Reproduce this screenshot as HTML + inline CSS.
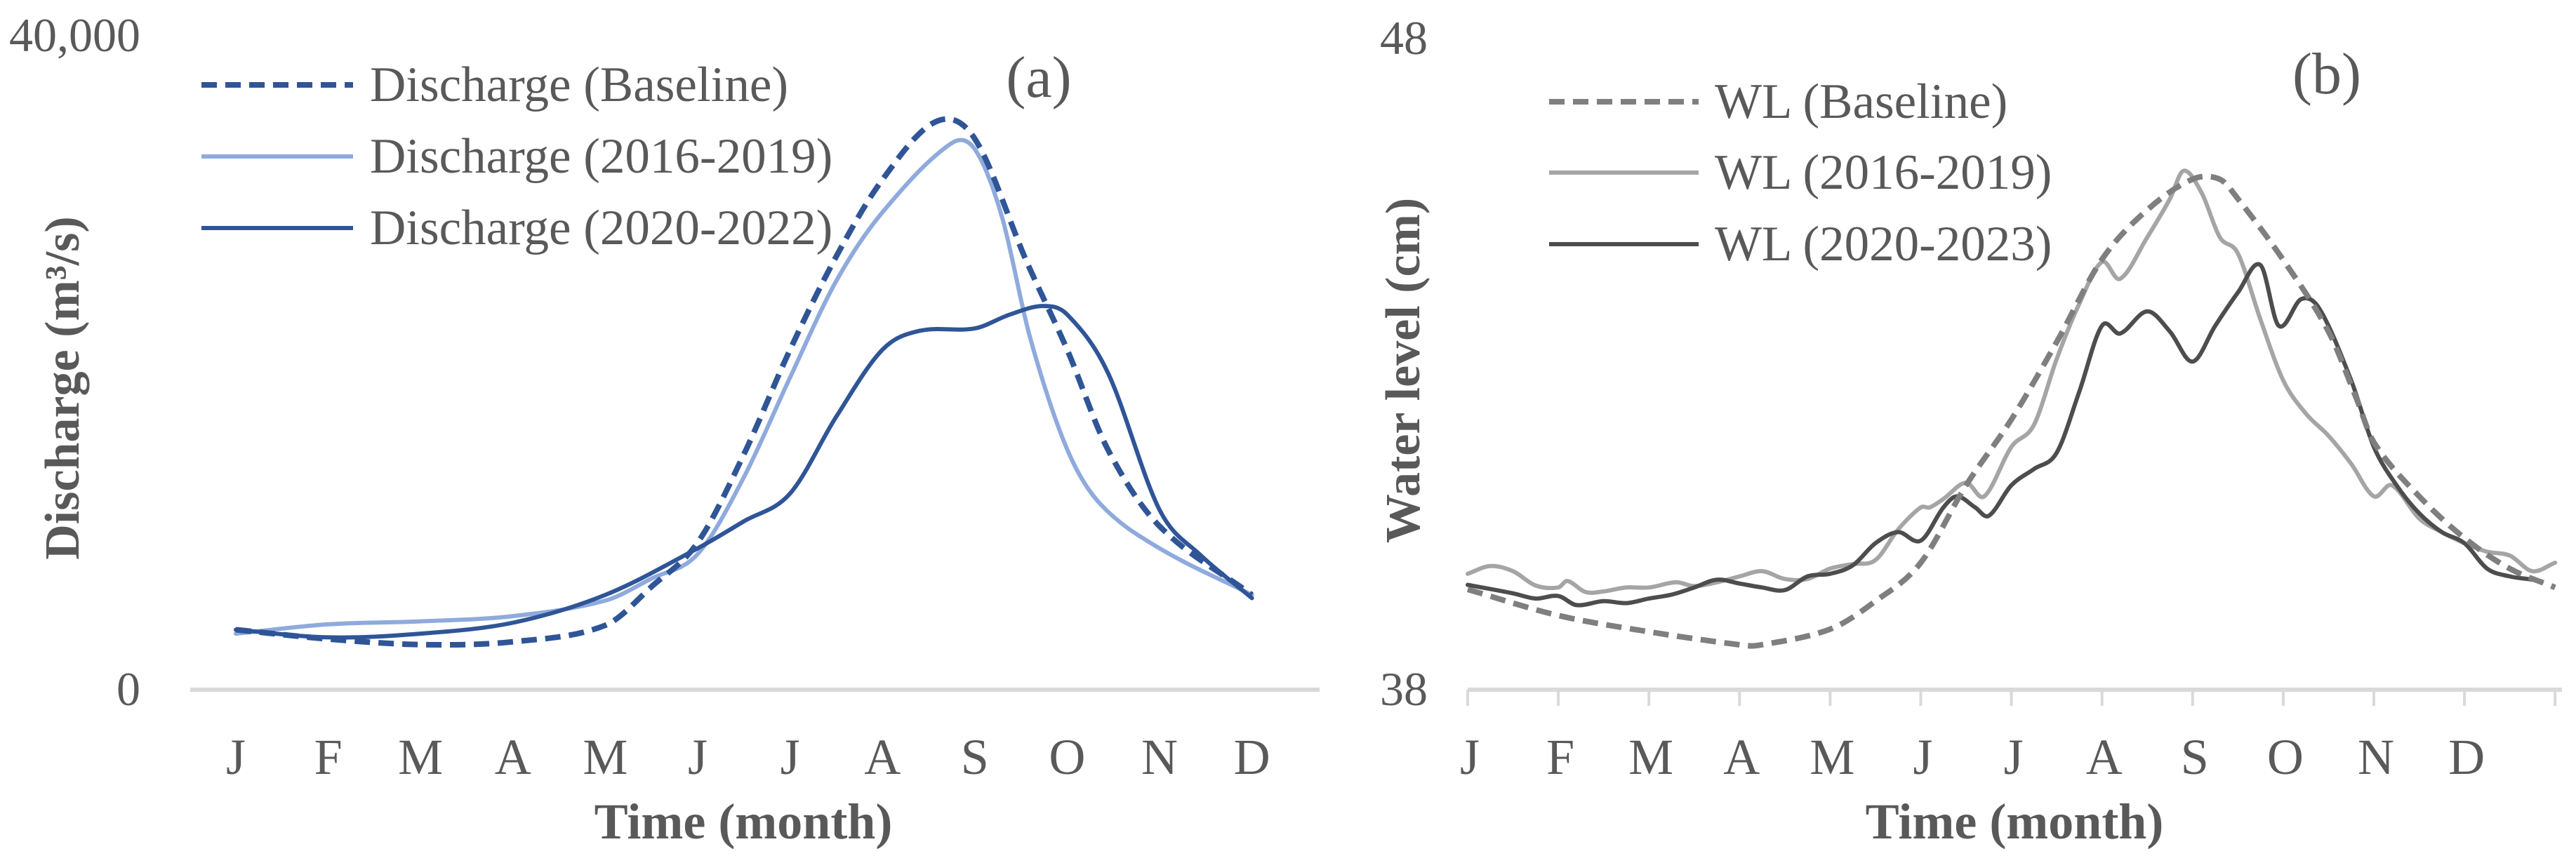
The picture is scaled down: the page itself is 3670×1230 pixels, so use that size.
<!DOCTYPE html>
<html><head><meta charset="utf-8"><style>
html,body{margin:0;padding:0;background:#fff;}
svg{display:block;font-family:"Liberation Serif",serif;}
</style></head><body>
<svg id="fig" width="3670" height="1230" viewBox="0 0 3670 1230" xmlns="http://www.w3.org/2000/svg">
<g id="chartA"></g>
<g id="chartB"></g>
</svg>
<script>
// ---- Chart (a) data ----
const monthLabels = ["J","F","M","A","M","J","J","A","S","O","N","D"];
const aBaseT = [0,1,2,3,4,4.5,5,5.5,6,6.5,7,7.58,8,8.56,9,9.44,10,11];
const aBaseV = [3670,3100,2760,2930,3940,6300,9000,14400,20800,26500,31200,34750,33700,26200,20800,14700,10000,5800];
const aLightT = [0,1,2,3,4,4.5,5,5.5,6,6.5,7,7.74,8,8.29,8.6,9,9.36,10,11];
const aLightV = [3430,4000,4180,4500,5450,6800,8300,13000,19100,25000,29200,33400,33060,29000,21500,14700,11350,8650,5800];
const aDarkT = [0,1,2,3,4,5,5.5,6,6.5,7,7.4,8,8.38,8.74,9,9.44,10,10.43,11];
const aDarkV = [3670,3200,3430,4100,5800,8650,10300,12000,16700,20800,21950,22100,22950,23470,22950,19400,11000,8300,5600];
const aTicks = ["0","40,000"];

// ---- Chart (b) data ----
const bBaseT = [0,1,2,3,3.2,4,4.5,5,5.5,6,6.5,7,7.5,8,8.3,8.5,9,9.5,9.8,10,10.5,11,11.5,12];
const bBaseV = [39.54,39.14,38.89,38.69,38.68,38.93,39.36,39.95,41.14,42.15,43.34,44.61,45.37,45.84,45.84,45.54,44.6,43.5,42.5,41.8,40.97,40.33,39.86,39.57];
const bLightT = [0,0.25,0.5,0.75,1,1.1,1.3,1.5,1.75,2,2.3,2.5,2.75,3,3.25,3.5,3.75,4,4.25,4.5,4.75,5,5.1,5.25,5.5,5.7,6,6.25,6.5,6.75,7,7.2,7.5,7.75,7.9,8.1,8.3,8.5,8.75,9,9.25,9.5,9.75,10,10.2,10.5,10.75,11,11.25,11.5,11.75,12];
const bLightV = [39.78,39.9,39.82,39.6,39.57,39.67,39.5,39.51,39.57,39.57,39.65,39.59,39.65,39.74,39.82,39.7,39.7,39.86,39.93,39.99,40.46,40.8,40.8,40.93,41.18,40.97,41.73,42.07,43.08,43.93,44.57,44.31,44.95,45.54,45.97,45.63,44.95,44.7,43.68,42.75,42.24,41.9,41.47,40.97,41.14,40.63,40.42,40.25,40.12,40.06,39.82,39.95];
const bDarkT = [0,0.5,0.75,1,1.2,1.5,1.75,2,2.25,2.5,2.75,3,3.25,3.5,3.75,4,4.25,4.5,4.75,5,5.25,5.4,5.6,5.75,6,6.25,6.5,6.75,7,7.2,7.5,7.75,8,8.25,8.5,8.75,8.95,9.2,9.4,9.75,10,10.25,10.5,10.75,11,11.25,11.5,11.75,11.85];
const bDarkV = [39.61,39.48,39.4,39.44,39.3,39.36,39.33,39.4,39.46,39.57,39.69,39.63,39.57,39.53,39.74,39.78,39.91,40.25,40.42,40.29,40.8,40.97,40.8,40.67,41.14,41.39,41.64,42.58,43.59,43.47,43.81,43.5,43.04,43.59,44.1,44.52,43.59,44.0,43.85,42.75,41.73,41.14,40.71,40.42,40.25,39.86,39.74,39.69,39.65];
const bTicks = ["38","48"];

const NS = "http://www.w3.org/2000/svg";
function mk(parent, tag, attrs, text){
  const e = document.createElementNS(NS, tag);
  for (const k in attrs) e.setAttribute(k, attrs[k]);
  if (text !== undefined) e.textContent = text;
  parent.appendChild(e);
  return e;
}
function smoothPath(pts){
  let d = "M" + pts[0][0].toFixed(1) + "," + pts[0][1].toFixed(1);
  for (let i = 0; i < pts.length - 1; i++){
    const p0 = pts[Math.max(0,i-1)], p1 = pts[i], p2 = pts[i+1], p3 = pts[Math.min(pts.length-1,i+2)];
    const seg = p2[0]-p1[0];
    const d1 = Math.max(p2[0]-p0[0], 1e-6), d2 = Math.max(p3[0]-p1[0], 1e-6);
    const m1 = (p2[1]-p0[1])/d1, m2 = (p3[1]-p1[1])/d2;
    const c1x = p1[0] + seg/3, c1y = p1[1] + m1*seg/3;
    const c2x = p2[0] - seg/3, c2y = p2[1] - m2*seg/3;
    d += " C" + c1x.toFixed(1)+","+c1y.toFixed(1)+" "+c2x.toFixed(1)+","+c2y.toFixed(1)+" "+p2[0].toFixed(1)+","+p2[1].toFixed(1);
  }
  return d;
}
const TXT = "#595959";

// ===== Chart A =====
const A = document.getElementById("chartA");
const axA = t => 336 + t * 131.6;
const ayA = v => 983 - v * (983 - 51) / 40000;
let el;
el = mk(A, "line", {x1:271, y1:983, x2:1880, y2:983, stroke:"#d9d9d9", "stroke-width":6});


[0,40000].forEach((v,i)=>{
  el = mk(A, "text", {x:200, y:ayA(v)+22, "text-anchor":"end", "font-size":68, fill:TXT}, aTicks[i]);
  
  
});
monthLabels.forEach((m,i)=>{
  el = mk(A, "text", {x:axA(i), y:1103, "text-anchor":"middle", "font-size":72, fill:TXT}, m);
  
  
});
el = mk(A, "text", {x:1059, y:1195, "text-anchor":"middle", "font-size":72, "font-weight":"bold", fill:TXT}, "Time (month)");


el = mk(A, "text", {x:0, y:0, "text-anchor":"middle", "font-size":70, "font-weight":"bold", fill:TXT, transform:"translate(112,553) rotate(-90)"}, "Discharge (m³/s)");


el = mk(A, "text", {x:1480, y:138, "text-anchor":"middle", "font-size":84, fill:TXT}, "(a)");



const aSeries = [
  {t:aLightT, v:aLightV, c:"#8faadc", w:6, dash:null},
  {t:aDarkT, v:aDarkV, c:"#2f5597", w:6, dash:null},
  {t:aBaseT, v:aBaseV, c:"#2f5597", w:8, dash:"22 12"}
];
aSeries.forEach(s=>{
  const pts = s.t.map((t,i)=>[axA(t), ayA(s.v[i])]);
  const attrs = {d:smoothPath(pts), fill:"none", stroke:s.c, "stroke-width":s.w, "stroke-linecap":"round", "stroke-linejoin":"round"};
  if (s.dash) { attrs["stroke-dasharray"] = s.dash; attrs["stroke-linecap"]="butt"; }
  el = mk(A, "path", attrs);
  
  
});
const aLegend = [
  {c:"#2f5597", w:8, dash:"22 12", label:"Discharge (Baseline)", y:121},
  {c:"#8faadc", w:6, dash:null, label:"Discharge (2016-2019)", y:223},
  {c:"#2f5597", w:6, dash:null, label:"Discharge (2020-2022)", y:325}
];
aLegend.forEach(l=>{
  const a = {x1:287, y1:l.y, x2:503, y2:l.y, stroke:l.c, "stroke-width":l.w};
  if (l.dash) a["stroke-dasharray"]=l.dash;
  el = mk(A, "line", a);
  
  
  el = mk(A, "text", {x:527, y:l.y+23, "font-size":71, fill:TXT}, l.label);
  
  
});

// ===== Chart B =====
const B = document.getElementById("chartB");
const axB = t => 2091 + t * 129.1;
const ayB = v => 983 - (v - 38) * (983 - 55) / 10;
el = mk(B, "line", {x1:2091, y1:983, x2:3650, y2:983, stroke:"#d9d9d9", "stroke-width":6});


for (let i = 0; i <= 12; i++){
  el = mk(B, "line", {x1:axB(i), y1:983, x2:axB(i), y2:1006, stroke:"#d9d9d9", "stroke-width":4});
  
  
}
[38,48].forEach((v,i)=>{
  el = mk(B, "text", {x:2034, y:ayB(v)+22, "text-anchor":"end", "font-size":68, fill:TXT}, bTicks[i]);
  
  
});
monthLabels.forEach((m,i)=>{
  el = mk(B, "text", {x:axB(i)+3, y:1103, "text-anchor":"middle", "font-size":72, fill:TXT}, m);
  
  
});
el = mk(B, "text", {x:2870, y:1195, "text-anchor":"middle", "font-size":72, "font-weight":"bold", fill:TXT}, "Time (month)");


el = mk(B, "text", {x:0, y:0, "text-anchor":"middle", "font-size":70, "font-weight":"bold", fill:TXT, "xml:space":"preserve", transform:"translate(2022,528) rotate(-90)"}, "Water level  (cm)");


el = mk(B, "text", {x:3315, y:133, "text-anchor":"middle", "font-size":84, fill:TXT}, "(b)");



const bSeries = [
  {t:bLightT, v:bLightV, c:"#a5a5a5", w:6, dash:null},
  {t:bDarkT, v:bDarkV, c:"#4d4d4d", w:6, dash:null},
  {t:bBaseT, v:bBaseV, c:"#7f7f7f", w:8, dash:"22 12"}
];
bSeries.forEach(s=>{
  const pts = s.t.map((t,i)=>[axB(t), ayB(s.v[i])]);
  const attrs = {d:smoothPath(pts), fill:"none", stroke:s.c, "stroke-width":s.w, "stroke-linecap":"round", "stroke-linejoin":"round"};
  if (s.dash) { attrs["stroke-dasharray"] = s.dash; attrs["stroke-linecap"]="butt"; }
  el = mk(B, "path", attrs);
  
  
});
const bLegend = [
  {c:"#7f7f7f", w:8, dash:"22 12", label:"WL (Baseline)", y:145},
  {c:"#a5a5a5", w:6, dash:null, label:"WL (2016-2019)", y:246},
  {c:"#4d4d4d", w:6, dash:null, label:"WL (2020-2023)", y:348}
];
bLegend.forEach(l=>{
  const a = {x1:2207, y1:l.y, x2:2420, y2:l.y, stroke:l.c, "stroke-width":l.w};
  if (l.dash) a["stroke-dasharray"]=l.dash;
  el = mk(B, "line", a);
  
  
  el = mk(B, "text", {x:2443, y:l.y+23, "font-size":71, fill:TXT}, l.label);
  
  
});
</script>
</body></html>
